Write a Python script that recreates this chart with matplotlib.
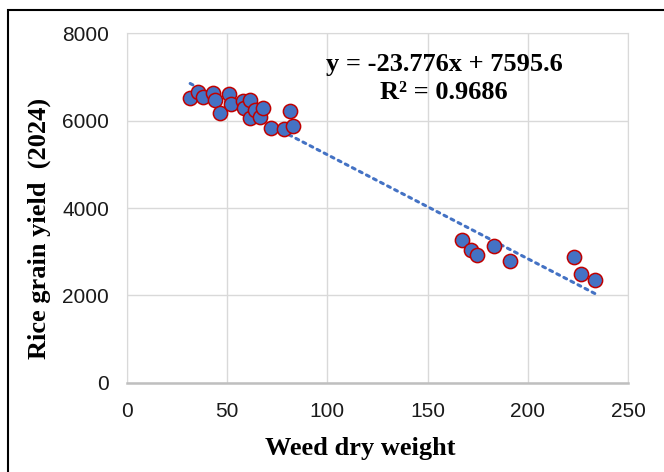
import numpy as np
import matplotlib.pyplot as plt
from matplotlib.patches import Rectangle

# weed dry weight vs rice grain yield (2024)
weed = [31.5, 35.5, 38, 43, 44, 46.5, 51, 52, 58, 58.5, 61.5, 61.5, 64, 66.5, 68,
        72, 78.5, 81.5, 83, 167, 171.5, 174.5, 183, 191, 223, 226.5, 233.5]
yield_ = [6526, 6658, 6537, 6622, 6469, 6183, 6599, 6377, 6452, 6279, 6469, 6057,
          6240, 6087, 6293, 5840, 5817, 6224, 5886, 3280, 3040, 2926, 3131, 2795,
          2872, 2491, 2354]
slope, intercept = -23.776, 7595.6
r2 = 0.9686

fig = plt.figure(figsize=(6.64, 4.72), dpi=100)
ax = fig.add_axes([0.1913, 0.1886, 0.7545, 0.7414])

# outer black frame like the pasted excel chart
fig.patches.append(Rectangle((8 / 664, -0.1), 1.2, 1 - 10 / 472 + 0.1, transform=fig.transFigure,
                             fill=False, edgecolor='black', linewidth=1.5))

xs = np.array([min(weed), max(weed)])
ax.plot(xs, slope * xs + intercept, linestyle=(0, (1, 1.6)), color='#4472C4',
        linewidth=2.2, dash_capstyle='round', zorder=2)
ax.scatter(weed, yield_, s=105, c='#4472C4', edgecolors='#C00000', linewidths=1.1, zorder=3)

ax.set_xlim(0, 250)
ax.set_ylim(0, 8000)
ax.set_xticks(range(0, 251, 50))
ax.set_yticks(range(0, 8001, 2000))
ax.grid(True, color='#D9D9D9', linewidth=1)
ax.set_axisbelow(True)
for s in ['top', 'right', 'left']:
    ax.spines[s].set_color('#D9D9D9')
ax.spines['bottom'].set_color('#BFBFBF')
ax.spines['bottom'].set_linewidth(1.8)
ax.tick_params(length=0, labelsize=15, labelcolor='#1a1a1a')
ax.tick_params(axis='y', pad=13)
ax.tick_params(axis='x', pad=14)
for lab in ax.get_xticklabels() + ax.get_yticklabels():
    lab.set_family('Liberation Sans')

ax.set_xlabel('Weed dry weight', family='Liberation Serif', fontweight='bold', fontsize=19)
ax.set_ylabel('Rice grain yield  (2024)', family='Liberation Serif', fontweight='bold',
              fontsize=19)
ax.xaxis.set_label_coords(0.465, -0.155)
ax.yaxis.set_label_coords(-0.152, 0.443)

ax.text(0.633, 0.87, 'y = -23.776x + 7595.6\nR² = 0.9686', transform=ax.transAxes,
        ha='center', va='center', family='Liberation Serif', fontweight='bold',
        fontsize=19, linespacing=1.32)

fig.savefig('out.png', dpi=100)
